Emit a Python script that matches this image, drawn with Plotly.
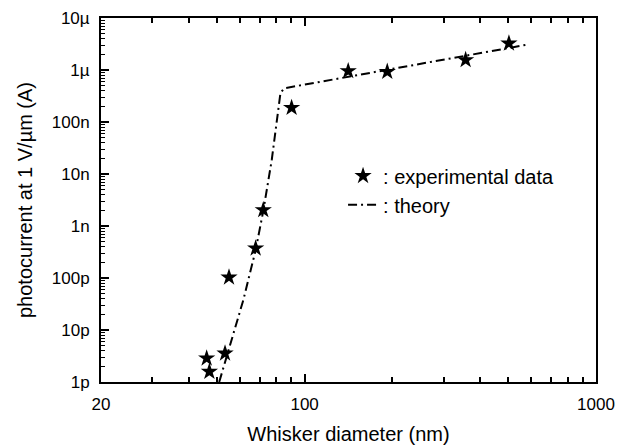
import plotly.graph_objects as go
import numpy as np

# experimental data (whisker diameter nm, photocurrent A)
exp_diam = [46.1, 47.1, 53.3, 55.0, 67.9, 72.1, 90.2, 141.1, 192.1, 356.9, 502.5]
exp_curr = [2.86e-12, 1.58e-12, 3.56e-12, 1.03e-10, 3.73e-10, 2.03e-9, 1.88e-7,
            9.57e-7, 9.27e-7, 1.56e-6, 3.26e-6]

# theory curve
th_diam = [50.9, 54.0, 61.6, 67.9, 72.1, 77.1, 80.5, 82.6, 85.1, 590.0]
th_curr = [1.0e-12, 3.07e-12, 3.78e-11, 3.45e-10, 1.94e-9, 1.86e-8, 1.09e-7,
           3.61e-7, 4.45e-7, 3.12e-6]

y_tickvals = [1e-12, 1e-11, 1e-10, 1e-9, 1e-8, 1e-7, 1e-6, 1e-5]
y_ticktext = ["1p", "10p", "100p", "1n", "10n", "100n", "1\u00b5", "10\u00b5"]
x_tickvals = [20, 100, 1000]
x_ticktext = ["20", "100", "1000"]

FONT = "Liberation Sans, Arial, sans-serif"

x_minor = [k * 10 for k in range(3, 10)] + [k * 100 for k in range(2, 10)]
y_minor = [k * 10.0 ** e for e in range(-12, -5) for k in range(2, 10)]

fig = go.Figure()
fig.add_trace(go.Scatter(
    x=exp_diam, y=exp_curr, mode="markers", name=": experimental data",
    marker=dict(symbol="star", size=13, color="black", line=dict(width=0)),
))
fig.add_trace(go.Scatter(
    x=th_diam, y=th_curr, mode="lines", name=": theory",
    line=dict(color="black", width=2, dash="9px,4px,2px,4px"),
))
# invisible helper trace so the top axis (ticks only) is drawn
fig.add_trace(go.Scatter(
    x=exp_diam, y=exp_curr, mode="markers", xaxis="x2", showlegend=False,
    marker=dict(opacity=0), hoverinfo="skip",
))

xrange = [np.log10(20), 3]
axis_common = dict(
    type="log", range=xrange,
    showgrid=False, zeroline=False, automargin=False,
    ticks="inside", ticklen=8, tickwidth=1.5, tickcolor="black",
    tickmode="array", tickvals=x_tickvals,
    minor=dict(ticks="inside", ticklen=5, tickwidth=1.5, tickcolor="black",
               tickmode="array", tickvals=x_minor, showgrid=False),
)

# page body has an 8px margin: figure is sized/offset to compensate
fig.update_layout(
    width=621, height=437,
    margin=dict(l=93, r=33, t=10, b=63),
    paper_bgcolor="white", plot_bgcolor="white",
    font=dict(family=FONT, color="black", size=17),
    showlegend=True,
    legend=dict(
        x=0.489, y=0.62, xanchor="left", yanchor="top",
        bgcolor="rgba(0,0,0,0)", font=dict(size=20, family=FONT),
        borderwidth=0, tracegroupgap=0,
    ),
    xaxis=dict(
        **axis_common,
        showline=True, linecolor="black", linewidth=2, mirror=True,
        ticktext=x_ticktext, tickfont=dict(size=17), ticklabelstandoff=6,
        title=dict(text="Whisker diameter (nm)", font=dict(size=20), standoff=14),
    ),
    xaxis2=dict(
        **axis_common,
        overlaying="x", side="top", anchor="y",
        showline=False, showticklabels=False,
    ),
    yaxis=dict(
        type="log", range=[-12, -5],
        showgrid=False, zeroline=False, automargin=False,
        showline=True, linecolor="black", linewidth=2, mirror=True,
        ticks="inside", ticklen=8, tickwidth=1.5, tickcolor="black",
        tickmode="array", tickvals=y_tickvals, ticktext=y_ticktext,
        tickfont=dict(size=17), ticklabelstandoff=6,
        minor=dict(ticks="inside", ticklen=4, tickwidth=1, tickcolor="black",
                   tickmode="array", tickvals=y_minor, showgrid=False),
        title=dict(text="photocurrent at 1 V/\u00b5m (A)", font=dict(size=20), standoff=14),
    ),
)

fig.write_html("out.html")
